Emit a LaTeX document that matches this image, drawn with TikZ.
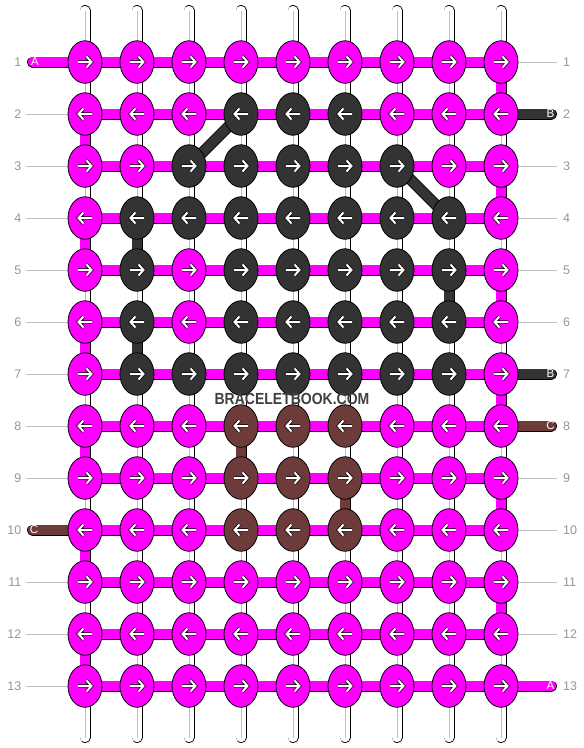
\documentclass[tikz,border=0pt]{standalone}
\usepackage{fontspec}
\setmainfont{Liberation Sans}
\usetikzlibrary{shapes.geometric}

\definecolor{knot0}{RGB}{255,0,255}
\definecolor{knot1}{RGB}{51,51,51}
\definecolor{knot2}{RGB}{110,59,59}
\definecolor{rowgray}{RGB}{150,150,150}
\definecolor{linegray}{RGB}{192,192,192}
\definecolor{wmgray}{RGB}{64,64,64}

% knot colours, row by row (0 = A, 1 = B, 2 = C)
\def\knotmap{{%
0,0,0,0,0,0,0,0,0,%
0,0,0,1,1,1,0,0,0,%
0,0,1,1,1,1,1,0,0,%
0,1,1,1,1,1,1,1,0,%
0,1,0,1,1,1,1,1,0,%
0,1,0,1,1,1,1,1,0,%
0,1,1,1,1,1,1,1,0,%
0,0,0,2,2,2,0,0,0,%
0,0,0,2,2,2,0,0,0,%
0,0,0,2,2,2,0,0,0,%
0,0,0,0,0,0,0,0,0,%
0,0,0,0,0,0,0,0,0,%
0,0,0,0,0,0,0,0,0}}

\begin{document}
\begin{tikzpicture}[x=1pt, y=-1pt,
    knot/.style={ellipse, draw=black, line width=0.8pt, minimum width=34pt, minimum height=42.5pt, inner sep=0pt},
    strand/.style={double=#1, double distance=9.4pt, line width=0.8pt},
    tag/.style={white, inner sep=0pt, font=\fontsize{11.5}{11.5}\selectfont},
    rownum/.style={rowgray, inner sep=0pt, font=\fontsize{12.5}{12.5}\selectfont},
    guide/.style={linegray, line width=0.9pt},
    arrowline/.style={double=white, double distance=2pt, line width=0.7pt},
    rarrow/.pic={\draw[arrowline] (-7,0) -- (6.5,0) (1.5,-5.5) -- (6.5,0) -- (1.5,5.5);},
    larrow/.pic={\draw[arrowline] (7,0) -- (-6.5,0) (-1.5,-5.5) -- (-6.5,0) -- (-1.5,5.5);}
]
\useasboundingbox (0,0) rectangle (584,748);

% Knot positions
\foreach \r in {1,...,13}
  \foreach \c in {1,...,9}
    \coordinate (p-\r-\c) at ({85+52*(\c-1)},{62+52*(\r-1)});

% Row numbers and guide lines
\foreach \r in {1,...,13} {
  \path (p-\r-1) ++(-63.5,0) node[rownum, anchor=east] (ln-\r) {\r};
  \path (p-\r-9) ++(62,0) node[rownum, anchor=west] (rn-\r) {\r};
}
\foreach \r in {2,...,9,11,12,13}
  \draw[guide] (ln-\r.east) ++(4.5,0) -- (p-\r-1);
\foreach \r in {1,3,4,5,6,9,10,11,12}
  \draw[guide] (rn-\r.west) ++(-6,0) -- (p-\r-9);

% White base strands
\foreach \c in {1,...,9} {
  \path (p-1-\c) ++(0,-51.5) coordinate (top-\c);
  \path (p-13-\c) ++(0,51.5) coordinate (bot-\c);
  \draw[strand=white, line cap=round] (top-\c) -- (bot-\c);
  \draw[linegray, line width=0.9pt] (top-\c) -- (bot-\c);
}

% Knotting strand going down to the next row
\foreach \r/\c/\col in {2/1/knot0, 4/1/knot0, 6/1/knot0, 8/1/knot0, 10/1/knot0, 12/1/knot0,
                        1/9/knot0, 3/9/knot0, 5/9/knot0, 7/9/knot0, 9/9/knot0, 11/9/knot0,
                        4/2/knot1, 6/2/knot1, 5/8/knot1, 8/4/knot2, 9/6/knot2} {
  \pgfmathtruncatemacro\nxt{\r+1}
  \draw[strand=\col] (p-\r-\c) -- (p-\nxt-\c);
}

% Rows
\foreach \r in {1,...,13}
  \draw[strand=knot0] (p-\r-1) -- (p-\r-9);

% Loose ends
\path (p-1-1) ++(-52.5,0) coordinate (a-start);
\path (p-13-9) ++(50.5,0) coordinate (a-end);
\path (p-2-9) ++(50.5,0) coordinate (b-start);
\path (p-7-9) ++(50.5,0) coordinate (b-end);
\path (p-8-9) ++(50.5,0) coordinate (c-start);
\path (p-10-1) ++(-52.5,0) coordinate (c-end);
\draw[strand=knot0, line cap=round] (a-start) -- (p-1-1);
\draw[strand=knot0, line cap=round] (a-end) -- (p-13-9);
\draw[strand=knot1, line cap=round] (b-start) -- (p-2-9);
\draw[strand=knot1, line cap=round] (b-end) -- (p-7-9);
\draw[strand=knot2, line cap=round] (c-start) -- (p-8-9);
\draw[strand=knot2, line cap=round] (c-end) -- (p-10-1);

% Diagonal jumps
\draw[strand=knot1] (p-2-4) -- (p-3-3);
\draw[strand=knot1] (p-3-7) -- (p-4-8);

% Knots
\foreach \r in {1,...,13}
  \foreach \c in {1,...,9} {
    \pgfmathtruncatemacro\kc{\knotmap[(\r-1)*9+\c-1]}
    \node[knot, fill=knot\kc] (k-\r-\c) at (p-\r-\c) {};
    \ifodd\r \pic at (k-\r-\c) {rarrow}; \else \pic at (k-\r-\c) {larrow}; \fi
  }

% Strand letters
\path (a-start) ++(2.5,0) node[tag] (tag-a1) {A};
\path (a-end) ++(-1,0) node[tag] (tag-a2) {A};
\path (b-start) ++(-1,0) node[tag] (tag-b1) {B};
\path (b-end) ++(-1,0) node[tag] (tag-b2) {B};
\path (c-start) ++(-1,0) node[tag] (tag-c1) {C};
\path (c-end) ++(1.5,0) node[tag] (tag-c2) {C};

% Site name
\node[wmgray, font=\bfseries\fontsize{14}{14}\selectfont] (site) at (292,399)
  {\scalebox{1}[1.15]{BRACELETBOOK.COM}};
\end{tikzpicture}
\end{document}
